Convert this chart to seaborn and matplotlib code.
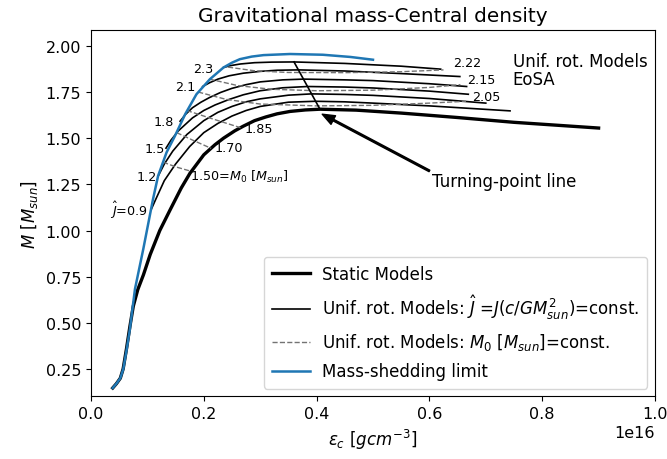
import matplotlib
matplotlib.use("Agg")
import matplotlib.pyplot as plt
import seaborn as sns
import pandas as pd

# Central energy density in units of 1e16 g/cm^3, gravitational mass in M_sun
static_eps = [0.0385, 0.045, 0.052, 0.057, 0.063, 0.069, 0.075, 0.083, 0.093, 0.105,
              0.122, 0.14, 0.16, 0.1755, 0.2, 0.22, 0.235, 0.255, 0.27, 0.29,
              0.31, 0.33, 0.353, 0.38, 0.406, 0.47, 0.55, 0.65, 0.75, 0.9]
static_M = [0.147, 0.17, 0.2, 0.25, 0.36, 0.48, 0.59, 0.68, 0.76, 0.87,
            1.0, 1.11, 1.23, 1.31, 1.41, 1.465, 1.5, 1.54, 1.565, 1.595,
            1.615, 1.632, 1.645, 1.653, 1.657, 1.652, 1.636, 1.612, 1.586, 1.555]

shed_eps = [0.0385, 0.045, 0.052, 0.0573, 0.063, 0.069, 0.078, 0.0927, 0.11, 0.119,
            0.134, 0.149, 0.167, 0.187, 0.211, 0.235, 0.25, 0.264, 0.285, 0.306,
            0.353, 0.411, 0.46, 0.5]
shed_M = [0.147, 0.17, 0.2, 0.25, 0.35, 0.466, 0.683, 0.899, 1.17, 1.296,
          1.423, 1.513, 1.63, 1.738, 1.82, 1.883, 1.909, 1.928, 1.942, 1.95,
          1.956, 1.952, 1.94, 1.925]

# Sequences of constant dimensionless angular momentum J-hat
J_values = [0.9, 1.2, 1.5, 1.8, 2.1, 2.3]
J_eps = [
    [0.107, 0.115, 0.13, 0.15, 0.175, 0.2, 0.225, 0.25, 0.275, 0.3, 0.35, 0.398,
     0.45, 0.5, 0.6, 0.743],
    [0.119, 0.13, 0.145, 0.17, 0.2, 0.225, 0.25, 0.275, 0.3, 0.35, 0.391, 0.45,
     0.5, 0.6, 0.70],
    [0.133, 0.142, 0.155, 0.18, 0.2, 0.22, 0.245, 0.27, 0.3, 0.34, 0.384, 0.45,
     0.5, 0.6, 0.669],
    [0.158, 0.168, 0.18, 0.195, 0.21, 0.23, 0.25, 0.275, 0.3, 0.34, 0.377, 0.45,
     0.5, 0.6, 0.666],
    [0.198, 0.21, 0.225, 0.245, 0.27, 0.3, 0.33, 0.368, 0.45, 0.55, 0.654],
    [0.235, 0.247, 0.265, 0.29, 0.32, 0.36, 0.45, 0.55, 0.62],
]
J_M = [
    [1.115, 1.17, 1.27, 1.36, 1.455, 1.53, 1.58, 1.62, 1.65, 1.672, 1.695, 1.70,
     1.697, 1.69, 1.675, 1.648],
    [1.294, 1.36, 1.43, 1.52, 1.595, 1.64, 1.672, 1.697, 1.713, 1.733, 1.74, 1.737,
     1.732, 1.715, 1.69],
    [1.446, 1.49, 1.54, 1.61, 1.65, 1.68, 1.71, 1.735, 1.757, 1.773, 1.78, 1.777,
     1.772, 1.755, 1.738],
    [1.592, 1.63, 1.665, 1.695, 1.72, 1.748, 1.77, 1.79, 1.805, 1.816, 1.82, 1.816,
     1.812, 1.795, 1.78],
    [1.78, 1.80, 1.82, 1.838, 1.852, 1.862, 1.868, 1.87, 1.864, 1.85, 1.834],
    [1.883, 1.893, 1.902, 1.909, 1.912, 1.913, 1.905, 1.89, 1.874],
]

# Sequences of constant baryon mass M0
M0_values = [1.50, 1.70, 1.85, 2.05, 2.15, 2.22]
M0_eps = [
    [0.128, 0.15, 0.176],
    [0.152, 0.18, 0.213],
    [0.17, 0.21, 0.265],
    [0.19, 0.24, 0.3, 0.4, 0.5, 0.6, 0.665],
    [0.21, 0.26, 0.32, 0.4, 0.5, 0.6, 0.655],
    [0.243, 0.29, 0.35, 0.45, 0.55, 0.625],
]
M0_M = [
    [1.37, 1.345, 1.322],
    [1.53, 1.49, 1.445],
    [1.65, 1.61, 1.557],
    [1.75, 1.71, 1.685, 1.675, 1.678, 1.69, 1.70],
    [1.82, 1.785, 1.765, 1.757, 1.76, 1.775, 1.79],
    [1.885, 1.865, 1.856, 1.855, 1.86, 1.87],
]

# Turning-point line (maxima of the J-hat sequences)
turn_eps = [0.36, 0.406]
turn_M = [1.913, 1.657]

SCALE = 1e16

fig = plt.figure(figsize=(6.67, 4.6), dpi=100)
ax = fig.add_axes([0.1364, 0.1363, 0.8456, 0.7967])


def curve(xs, ys, **kw):
    df = pd.DataFrame({"eps": [v * SCALE for v in xs], "M": ys})
    sns.lineplot(data=df, x="eps", y="M", sort=False, estimator=None, ax=ax, **kw)


curve(static_eps, static_M, color="black", linewidth=2.4, label="Static Models")
for i, (xs, ys) in enumerate(zip(J_eps, J_M)):
    curve(xs, ys, color="black", linewidth=1.2,
          label=r"Unif. rot. Models: $\hat{J}$ =$J(c/GM_{sun}^2)$=const." if i == 0 else None)
for i, (xs, ys) in enumerate(zip(M0_eps, M0_M)):
    curve(xs, ys, color="0.45", linewidth=1.0, linestyle="--",
          label=r"Unif. rot. Models: $M_0$ [$M_{sun}$]=const." if i == 0 else None)
curve(shed_eps, shed_M, color="#1f77b4", linewidth=1.8, label="Mass-shedding limit")
curve(turn_eps, turn_M, color="black", linewidth=1.2)

# J-hat labels next to the mass-shedding limit
J_label_pos = [(0.067, 1.115), (0.099, 1.294), (0.113, 1.446),
               (0.129, 1.592), (0.168, 1.78), (0.199, 1.88)]
for j, (x, y) in zip(J_values, J_label_pos):
    txt = r"$\hat{J}$=%.1f" % j if j == 0.9 else "%.1f" % j
    ax.text(x * SCALE, y, txt, fontsize=9.2, ha="center", va="center")

# M0 labels
M0_label_pos = [(0.1755, 1.294), (0.22, 1.449), (0.273, 1.554),
                (0.675, 1.728), (0.667, 1.82), (0.642, 1.912)]
for m0, (x, y) in zip(M0_values, M0_label_pos):
    txt = r"%.2f=$M_0$ [$M_{sun}$]" % m0 if m0 == 1.50 else "%.2f" % m0
    ax.text(x * SCALE, y, txt, fontsize=9.2, ha="left", va="center")

ax.text(0.748 * SCALE, 1.965, "Unif. rot. Models\nEoSA", fontsize=12,
        ha="left", va="top", linespacing=1.0)

ax.annotate("Turning-point line", xy=(0.41 * SCALE, 1.63),
            xytext=(0.605 * SCALE, 1.266), fontsize=12, va="center", ha="left",
            arrowprops=dict(facecolor="black", edgecolor="black", width=1.2,
                            headwidth=7, headlength=9, shrink=0.0))

ax.set_xlim(0, 1e16)
ax.set_ylim(0.102, 2.087)
ax.set_xticks([0, 0.2e16, 0.4e16, 0.6e16, 0.8e16, 1.0e16])
ax.set_yticks([0.25, 0.5, 0.75, 1.0, 1.25, 1.5, 1.75, 2.0])
ax.tick_params(labelsize=11.5)
ax.xaxis.get_offset_text().set_fontsize(11.5)
ax.set_xlabel(r"$\varepsilon_c\ [gcm^{-3}]$", fontsize=12)
ax.set_ylabel(r"$M\ [M_{sun}]$", fontsize=12)
ax.set_title("Gravitational mass-Central density", fontsize=14.4)

ax.legend(loc="lower right", fontsize=12, labelspacing=0.6, handlelength=2.3,
          handletextpad=0.7, borderpad=0.5, borderaxespad=0.45, framealpha=0.8)

fig.savefig("out.png", dpi=100)
